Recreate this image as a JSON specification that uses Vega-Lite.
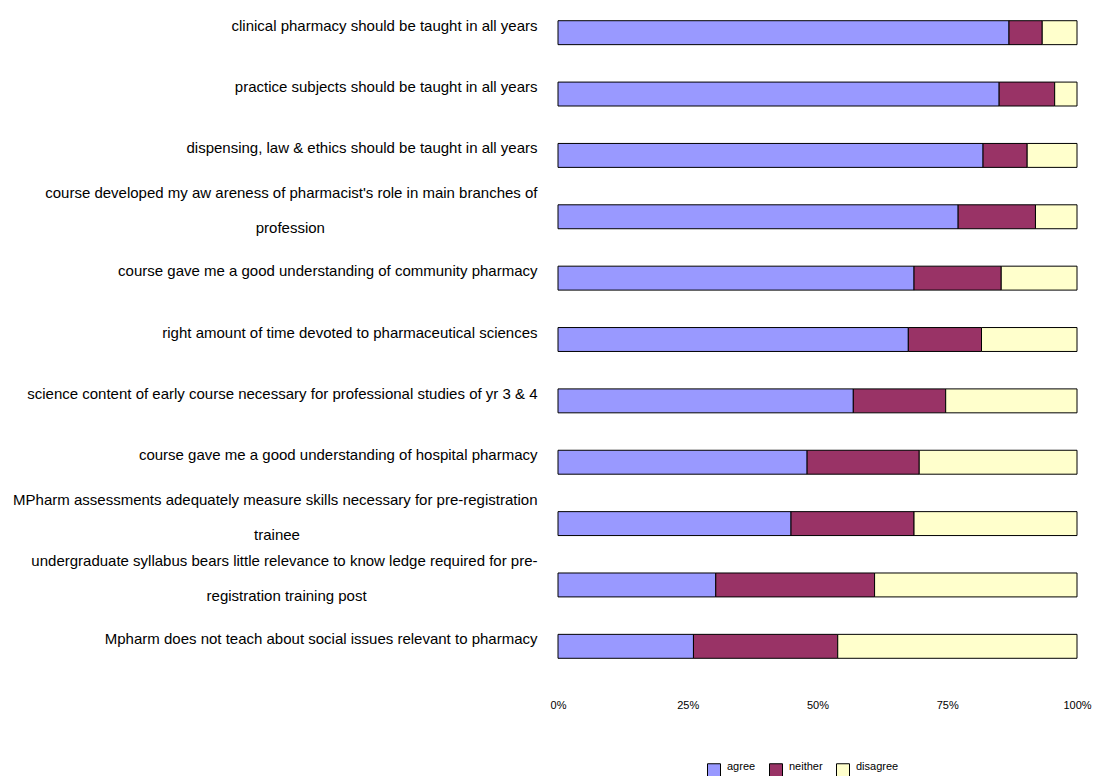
{
  "$schema": "https://vega.github.io/schema/vega-lite/v6.json",
  "autosize": "none",
  "width": 519,
  "height": 675,
  "padding": {"left": 558, "top": 2, "right": 17, "bottom": 99},
  "background": "white",
  "config": {
    "font": "Liberation Sans",
    "view": {"stroke": null}
  },
  "data": {
    "values": [
      {"item": "clinical pharmacy should be taught in all years", "response": "agree", "share": 0.869},
      {"item": "clinical pharmacy should be taught in all years", "response": "neither", "share": 0.064},
      {"item": "clinical pharmacy should be taught in all years", "response": "disagree", "share": 0.067},
      {"item": "practice subjects should be taught in all years", "response": "agree", "share": 0.850},
      {"item": "practice subjects should be taught in all years", "response": "neither", "share": 0.107},
      {"item": "practice subjects should be taught in all years", "response": "disagree", "share": 0.043},
      {"item": "dispensing, law  & ethics should be taught in all years", "response": "agree", "share": 0.819},
      {"item": "dispensing, law  & ethics should be taught in all years", "response": "neither", "share": 0.085},
      {"item": "dispensing, law  & ethics should be taught in all years", "response": "disagree", "share": 0.096},
      {"item": "course developed my aw areness of pharmacist's role in main branches of profession", "response": "agree", "share": 0.771},
      {"item": "course developed my aw areness of pharmacist's role in main branches of profession", "response": "neither", "share": 0.149},
      {"item": "course developed my aw areness of pharmacist's role in main branches of profession", "response": "disagree", "share": 0.080},
      {"item": "course gave me a good understanding of community pharmacy", "response": "agree", "share": 0.686},
      {"item": "course gave me a good understanding of community pharmacy", "response": "neither", "share": 0.168},
      {"item": "course gave me a good understanding of community pharmacy", "response": "disagree", "share": 0.146},
      {"item": "right amount of time devoted to pharmaceutical sciences", "response": "agree", "share": 0.675},
      {"item": "right amount of time devoted to pharmaceutical sciences", "response": "neither", "share": 0.141},
      {"item": "right amount of time devoted to pharmaceutical sciences", "response": "disagree", "share": 0.184},
      {"item": "science content of early course necessary for professional studies of yr 3 & 4", "response": "agree", "share": 0.569},
      {"item": "science content of early course necessary for professional studies of yr 3 & 4", "response": "neither", "share": 0.178},
      {"item": "science content of early course necessary for professional studies of yr 3 & 4", "response": "disagree", "share": 0.253},
      {"item": "course gave me a good understanding of hospital pharmacy", "response": "agree", "share": 0.480},
      {"item": "course gave me a good understanding of hospital pharmacy", "response": "neither", "share": 0.216},
      {"item": "course gave me a good understanding of hospital pharmacy", "response": "disagree", "share": 0.304},
      {"item": "MPharm assessments adequately measure skills necessary for pre-registration trainee", "response": "agree", "share": 0.449},
      {"item": "MPharm assessments adequately measure skills necessary for pre-registration trainee", "response": "neither", "share": 0.237},
      {"item": "MPharm assessments adequately measure skills necessary for pre-registration trainee", "response": "disagree", "share": 0.314},
      {"item": "undergraduate syllabus bears little relevance to know ledge required for pre-registration training post", "response": "agree", "share": 0.304},
      {"item": "undergraduate syllabus bears little relevance to know ledge required for pre-registration training post", "response": "neither", "share": 0.306},
      {"item": "undergraduate syllabus bears little relevance to know ledge required for pre-registration training post", "response": "disagree", "share": 0.390},
      {"item": "Mpharm does not teach about social issues relevant to pharmacy", "response": "agree", "share": 0.261},
      {"item": "Mpharm does not teach about social issues relevant to pharmacy", "response": "neither", "share": 0.278},
      {"item": "Mpharm does not teach about social issues relevant to pharmacy", "response": "disagree", "share": 0.461}
    ]
  },
  "transform": [
    {"calculate": "indexof(['agree','neither','disagree'], datum.response)", "as": "stackOrder"}
  ],
  "mark": {"type": "bar", "stroke": "#000000", "strokeWidth": 1},
  "encoding": {
    "y": {
      "field": "item",
      "type": "nominal",
      "sort": null,
      "scale": {"paddingInner": 0.61, "paddingOuter": 0.305},
      "axis": {
        "title": null,
        "domain": false,
        "ticks": false,
        "labelFontSize": 15,
        "labelColor": "#000000",
        "labelPadding": 21,
        "labelLimit": 600,
        "labelLineHeight": 35,
        "labelOffset": {"condition": {"test": "test(/pre-registration|profession$/, datum.value)", "value": -24}, "value": -7},
        "labelExpr": "datum.value == \"course developed my aw areness of pharmacist's role in main branches of profession\" ? [\"course developed my aw areness of pharmacist's role in main branches of\", pad('profession', 61, '\u00a0') + '\u200b'] : datum.value == 'MPharm assessments adequately measure skills necessary for pre-registration trainee' ? ['MPharm assessments adequately measure skills necessary for pre-registration', pad('trainee', 64, '\u00a0') + '\u200b'] : datum.value == 'undergraduate syllabus bears little relevance to know ledge required for pre-registration training post' ? ['undergraduate syllabus bears little relevance to know ledge required for pre-', pad('registration training post', 67, '\u00a0') + '\u200b'] : datum.value"
      }
    },
    "x": {
      "field": "share",
      "type": "quantitative",
      "stack": "normalize",
      "scale": {"domain": [0, 1]},
      "axis": {
        "title": null,
        "format": ".0%",
        "values": [0, 0.25, 0.5, 0.75, 1],
        "domain": false,
        "ticks": false,
        "grid": false,
        "labelFontSize": 11,
        "labelColor": "#000000",
        "labelPadding": 22,
        "labelFlush": false
      }
    },
    "color": {
      "field": "response",
      "type": "nominal",
      "sort": ["agree", "neither", "disagree"],
      "scale": {"domain": ["agree", "neither", "disagree"], "range": ["#9999FF", "#993366", "#FFFFCC"]},
      "legend": {
        "title": null,
        "orient": "none",
        "direction": "horizontal",
        "legendX": 149,
        "legendY": 761,
        "symbolType": "square",
        "symbolSize": 169,
        "symbolStrokeColor": "#000000",
        "symbolStrokeWidth": 1,
        "symbolOpacity": 1,
        "labelFontSize": 11,
        "labelColor": "#000000",
        "labelOffset": 6,
        "labelBaseline": "alphabetic",
        "columnPadding": 11
      }
    },
    "order": {"field": "stackOrder", "type": "quantitative"}
  }
}
